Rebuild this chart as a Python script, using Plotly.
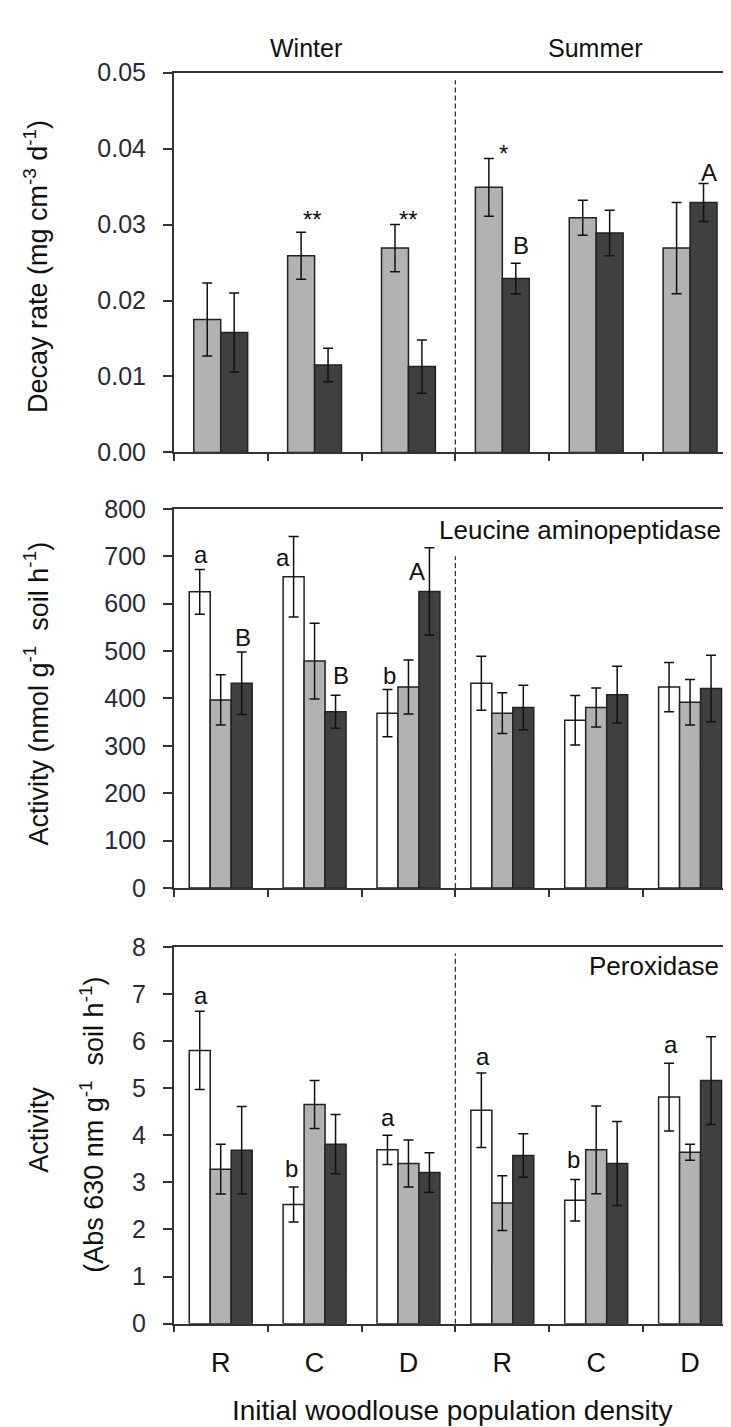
import plotly.graph_objects as go

# ---------------- data ----------------
groups = [0, 1, 2, 3, 4, 5]
group_labels = ["R", "C", "D", "R", "C", "D"]
seasons = ["Winter", "Summer"]

decay_light = [0.0175, 0.0259, 0.0269, 0.0349, 0.0309, 0.0269]
decay_light_err = [0.0048, 0.0031, 0.0031, 0.0038, 0.0023, 0.0060]
decay_dark = [0.0158, 0.0115, 0.0113, 0.0229, 0.0289, 0.0329]
decay_dark_err = [0.0052, 0.0022, 0.0035, 0.0020, 0.0030, 0.0025]

leu_white = [625, 657, 369, 432, 354, 424]
leu_white_err = [47, 85, 50, 57, 52, 52]
leu_gray = [397, 479, 424, 369, 381, 392]
leu_gray_err = [53, 80, 57, 43, 41, 48]
leu_dark = [432, 372, 626, 381, 408, 421]
leu_dark_err = [66, 35, 92, 47, 60, 70]

per_white = [5.80, 2.53, 3.69, 4.53, 2.62, 4.81]
per_white_err = [0.83, 0.37, 0.31, 0.79, 0.44, 0.72]
per_gray = [3.28, 4.65, 3.40, 2.56, 3.69, 3.64]
per_gray_err = [0.53, 0.51, 0.50, 0.58, 0.93, 0.17]
per_dark = [3.68, 3.81, 3.21, 3.57, 3.40, 5.16]
per_dark_err = [0.93, 0.63, 0.42, 0.46, 0.89, 0.93]

# significance letters: (text, x, y) in data coordinates
top_letters = [("**", 0.98, 0.0307), ("**", 2.0, 0.0307), ("*", 3.01, 0.0394),
               ("B", 3.20, 0.0272), ("A", 5.20, 0.0369)]
mid_letters = [("a", -0.213, 704), ("a", 0.66, 698), ("B", 0.234, 528),
               ("B", 1.277, 448), ("b", 1.798, 448), ("A", 2.096, 669)]
bot_letters = [("a", -0.213, 6.97), ("b", 0.755, 3.30), ("a", 1.787, 4.38),
               ("a", 2.798, 5.67), ("b", 3.755, 3.49), ("a", 4.798, 5.92)]

# ---------------- style ----------------
WHITE = "#ffffff"
LIGHT = "#b2b2b2"
DARK = "#404040"
EDGE = "#222222"
AXC = "#333333"
SANS = "Liberation Sans, Arial, sans-serif"

W, H = 731, 1427
xd = [166 / W, 730 / W]
dom_top = [1 - 439 / H, 1 - 51.7 / H]
dom_mid = [1 - 883.3 / H, 1 - 496.7 / H]
dom_bot = [1 - 1327.7 / H, 1 - 943.3 / H]

fig = go.Figure()


def add_bar(xa, ya, vals, errs, color, offset, width):
    fig.add_trace(go.Bar(
        x=groups, y=vals, offset=offset, width=width,
        marker=dict(color=color, line=dict(color=EDGE, width=1.5)),
        error_y=dict(type="data", array=errs, visible=True, color="#111111",
                     thickness=1.5, width=5),
        xaxis=xa, yaxis=ya, showlegend=False, hoverinfo="skip"))


w2 = 0.287
add_bar("x", "y", decay_light, decay_light_err, LIGHT, -w2, w2)
add_bar("x", "y", decay_dark, decay_dark_err, DARK, 0, w2)

w3 = 0.2235
for (xa, ya, sets) in [("x2", "y2", [(leu_white, leu_white_err), (leu_gray, leu_gray_err), (leu_dark, leu_dark_err)]),
                       ("x3", "y3", [(per_white, per_white_err), (per_gray, per_gray_err), (per_dark, per_dark_err)])]:
    for k, ((v, e), c) in enumerate(zip(sets, [WHITE, LIGHT, DARK])):
        add_bar(xa, ya, v, e, c, -1.5 * w3 + k * w3, w3)

boundaries = [i - 0.5 for i in range(7)]


def xaxis(domain_anchor, labels):
    d = dict(domain=xd, anchor=domain_anchor, range=[-0.5, 5.5],
             showline=True, mirror=True, linecolor=AXC, linewidth=1.5,
             showgrid=False, zeroline=False)
    if labels:
        d.update(ticks="", tickmode="array", tickvals=groups, ticktext=group_labels,
                 showticklabels=True,
                 tickfont=dict(family=SANS, size=27, color="#111111"),
                 ticklabelstandoff=14,
                 minor=dict(tickmode="array", tickvals=boundaries, ticks="outside",
                            ticklen=7, tickwidth=1.5, tickcolor=AXC, showgrid=False))
    else:
        d.update(ticks="outside", ticklen=7, tickwidth=1.5, tickcolor=AXC,
                 tickmode="array", tickvals=boundaries, showticklabels=False)
    return d


def yaxis(domain, anchor, rng, dtick, fmt=None):
    d = dict(domain=domain, anchor=anchor, range=rng, dtick=dtick, tick0=0,
             showline=True, mirror=True, linecolor=AXC, linewidth=1.5,
             ticks="outside", ticklen=9, tickwidth=1.5, tickcolor=AXC,
             showgrid=False, zeroline=False,
             tickfont=dict(family=SANS, size=25, color="#2a2a3a"),
             ticklabelstandoff=12)
    if fmt:
        d["tickformat"] = fmt
    return d


fig.update_layout(
    width=W, height=H, margin=dict(l=0, r=0, t=0, b=0),
    paper_bgcolor="white", plot_bgcolor="white",
    barmode="overlay",
    font=dict(family=SANS, color="#111111"),
    xaxis=xaxis("y", False), yaxis=yaxis(dom_top, "x", [0, 0.05], 0.01, ".2f"),
    xaxis2=xaxis("y2", False), yaxis2=yaxis(dom_mid, "x2", [0, 800], 100),
    xaxis3=xaxis("y3", True), yaxis3=yaxis(dom_bot, "x3", [0, 8], 1),
)

# dashed season separators
for xr, yr, ytop in [("x", "y", 0.049), ("x2", "y2", 700), ("x3", "y3", 7.86)]:
    fig.add_shape(type="line", xref=xr, yref=yr, x0=2.5, x1=2.5, y0=0, y1=ytop,
                  line=dict(color="#333333", width=1.3, dash="5px,3px"))

ann = []
for (xr, yr, lst) in [("x", "y", top_letters), ("x2", "y2", mid_letters), ("x3", "y3", bot_letters)]:
    for t, xx, yy in lst:
        ann.append(dict(text=t, x=xx, y=yy, xref=xr, yref=yr, showarrow=False,
                        xanchor="center", yanchor="middle",
                        font=dict(family=SANS, size=24, color="#111111")))

# season headers
for s, px in zip(seasons, [298, 588]):
    ann.append(dict(text=s, x=px / W, y=1 - 27 / H, xref="paper", yref="paper",
                    showarrow=False, xanchor="center", yanchor="middle",
                    font=dict(family=SANS, size=25, color="#111111")))

# panel names
ann.append(dict(text="Leucine aminopeptidase", x=716 / W, y=1 - 518 / H, xref="paper", yref="paper",
                showarrow=False, xanchor="right", yanchor="middle",
                font=dict(family=SANS, size=26, color="#111111")))
ann.append(dict(text="Peroxidase", x=714 / W, y=1 - 963 / H, xref="paper", yref="paper",
                showarrow=False, xanchor="right", yanchor="middle",
                font=dict(family=SANS, size=26, color="#111111")))

# axis titles
ytitle_font = dict(family=SANS, size=27, color="#111111")
ann.append(dict(text="Decay rate (mg cm<sup>-3</sup> d<sup>-1</sup>)", x=28 / W, y=1 - 249 / H,
                xref="paper", yref="paper", showarrow=False, textangle=-90,
                xanchor="center", yanchor="middle", font=ytitle_font))
ann.append(dict(text="Activity (nmol g<sup>-1</sup>  soil h<sup>-1</sup>)", x=28 / W, y=1 - 685 / H,
                xref="paper", yref="paper", showarrow=False, textangle=-90,
                xanchor="center", yanchor="middle", font=ytitle_font))
ann.append(dict(text="Activity", x=31 / W, y=1 - 1130 / H,
                xref="paper", yref="paper", showarrow=False, textangle=-90,
                xanchor="center", yanchor="middle", font=ytitle_font))
ann.append(dict(text="(Abs 630 nm g<sup>-1</sup>  soil h<sup>-1</sup>)", x=84 / W, y=1 - 1125 / H,
                xref="paper", yref="paper", showarrow=False, textangle=-90,
                xanchor="center", yanchor="middle", font=ytitle_font))
ann.append(dict(text="Initial woodlouse population density", x=445 / W, y=1 - 1416 / H,
                xref="paper", yref="paper", showarrow=False,
                xanchor="center", yanchor="middle",
                font=dict(family=SANS, size=28, color="#111111")))

fig.update_layout(annotations=ann)
fig.write_html("out.html")
